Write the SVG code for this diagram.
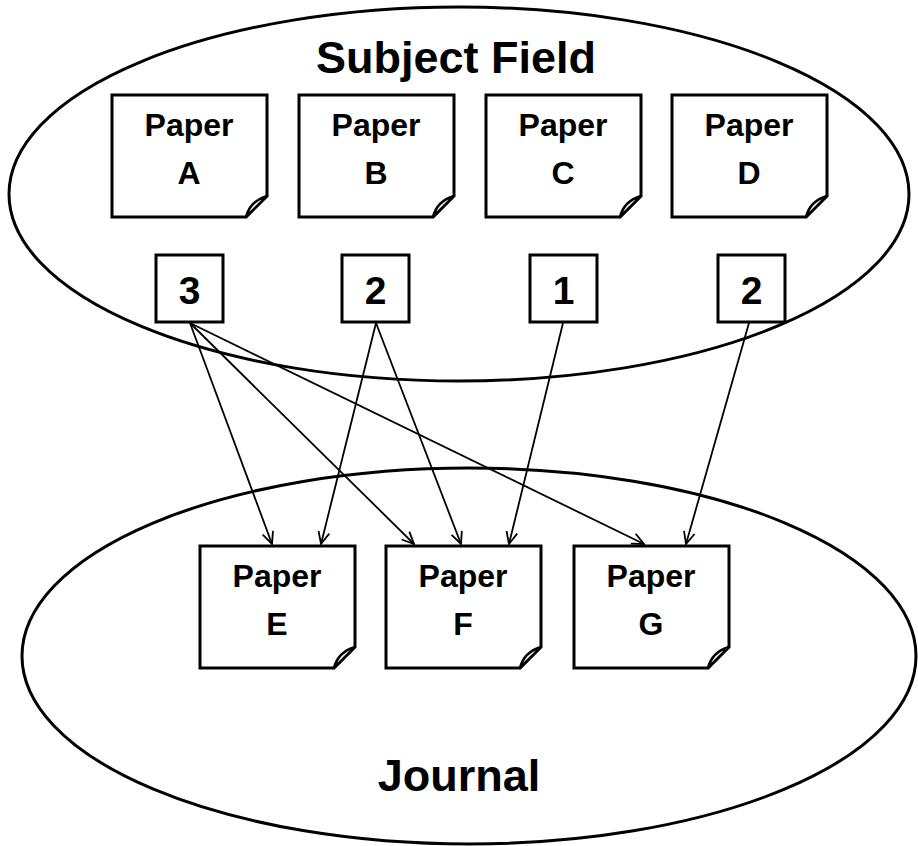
<svg xmlns="http://www.w3.org/2000/svg" width="918" height="846" viewBox="0 0 918 846">
<style>
.ell{fill:none;stroke:#000;stroke-width:3}
.pg{fill:#fff;stroke:#000;stroke-width:3;stroke-linejoin:miter}
.fold{fill:#fff;stroke:#000;stroke-width:2.5;stroke-linejoin:round}
.num{fill:#fff;stroke:#000;stroke-width:3}
.t{font-family:"Liberation Sans",Arial,sans-serif;font-weight:bold;fill:#000;text-anchor:middle}
.pt{font-size:32px}
.nt{font-size:39px}
.big{font-size:45px}
.c{fill:none;stroke:#000;stroke-width:1.8}
</style>
<defs>
<marker id="ah" viewBox="0 0 14 14" refX="13" refY="7" markerWidth="14" markerHeight="14" markerUnits="userSpaceOnUse" orient="auto">
<path d="M1,1.5 L13,7 L1,12.5" fill="none" stroke="#000" stroke-width="1.8"/>
</marker>
<g id="paper">
<path class="pg" d="M0,0 H155 V101 L134,122 H0 Z"/>
<path class="fold" d="M134,122 Q138,106 155,101 L134,122 Z"/>
</g>
</defs>
<g id="subject-field">
<ellipse class="ell" cx="459" cy="194" rx="450" ry="187"/>
<text class="t big" x="456" y="73">Subject Field</text>
</g>
<g id="journal">
<ellipse class="ell" cx="469" cy="656" rx="447" ry="188"/>
<text class="t big" x="459" y="791">Journal</text>
</g>
<g id="paper-a"><use href="#paper" x="112" y="95"/><text class="t pt" x="189" y="136">Paper</text><text class="t pt" x="189" y="184">A</text></g>
<g id="paper-b"><use href="#paper" x="299" y="95"/><text class="t pt" x="376" y="136">Paper</text><text class="t pt" x="376" y="184">B</text></g>
<g id="paper-c"><use href="#paper" x="486" y="95"/><text class="t pt" x="563" y="136">Paper</text><text class="t pt" x="563" y="184">C</text></g>
<g id="paper-d"><use href="#paper" x="672" y="95"/><text class="t pt" x="749" y="136">Paper</text><text class="t pt" x="749" y="184">D</text></g>
<g id="count-a"><rect class="num" x="156" y="255" width="67" height="67"/><text class="t nt" x="189.5" y="304">3</text></g>
<g id="count-b"><rect class="num" x="342" y="255" width="67" height="67"/><text class="t nt" x="375.5" y="304">2</text></g>
<g id="count-c"><rect class="num" x="530" y="255" width="67" height="67"/><text class="t nt" x="563.5" y="304">1</text></g>
<g id="count-d"><rect class="num" x="718" y="255" width="67" height="67"/><text class="t nt" x="751.5" y="304">2</text></g>
<g id="paper-e"><use href="#paper" x="200" y="546"/><text class="t pt" x="277" y="587">Paper</text><text class="t pt" x="277" y="635">E</text></g>
<g id="paper-f"><use href="#paper" x="386" y="546"/><text class="t pt" x="463" y="587">Paper</text><text class="t pt" x="463" y="635">F</text></g>
<g id="paper-g"><use href="#paper" x="574" y="546"/><text class="t pt" x="651" y="587">Paper</text><text class="t pt" x="651" y="635">G</text></g>
<g id="connectors">
<line class="c" x1="190" y1="323" x2="272" y2="544" marker-end="url(#ah)"/>
<line class="c" x1="190" y1="323" x2="414" y2="544" marker-end="url(#ah)"/>
<line class="c" x1="190" y1="323" x2="644" y2="544" marker-end="url(#ah)"/>
<line class="c" x1="376" y1="323" x2="321" y2="544" marker-end="url(#ah)"/>
<line class="c" x1="376" y1="323" x2="461" y2="544" marker-end="url(#ah)"/>
<line class="c" x1="563" y1="323" x2="509" y2="544" marker-end="url(#ah)"/>
<line class="c" x1="749" y1="323" x2="686" y2="544" marker-end="url(#ah)"/>
</g>
</svg>
